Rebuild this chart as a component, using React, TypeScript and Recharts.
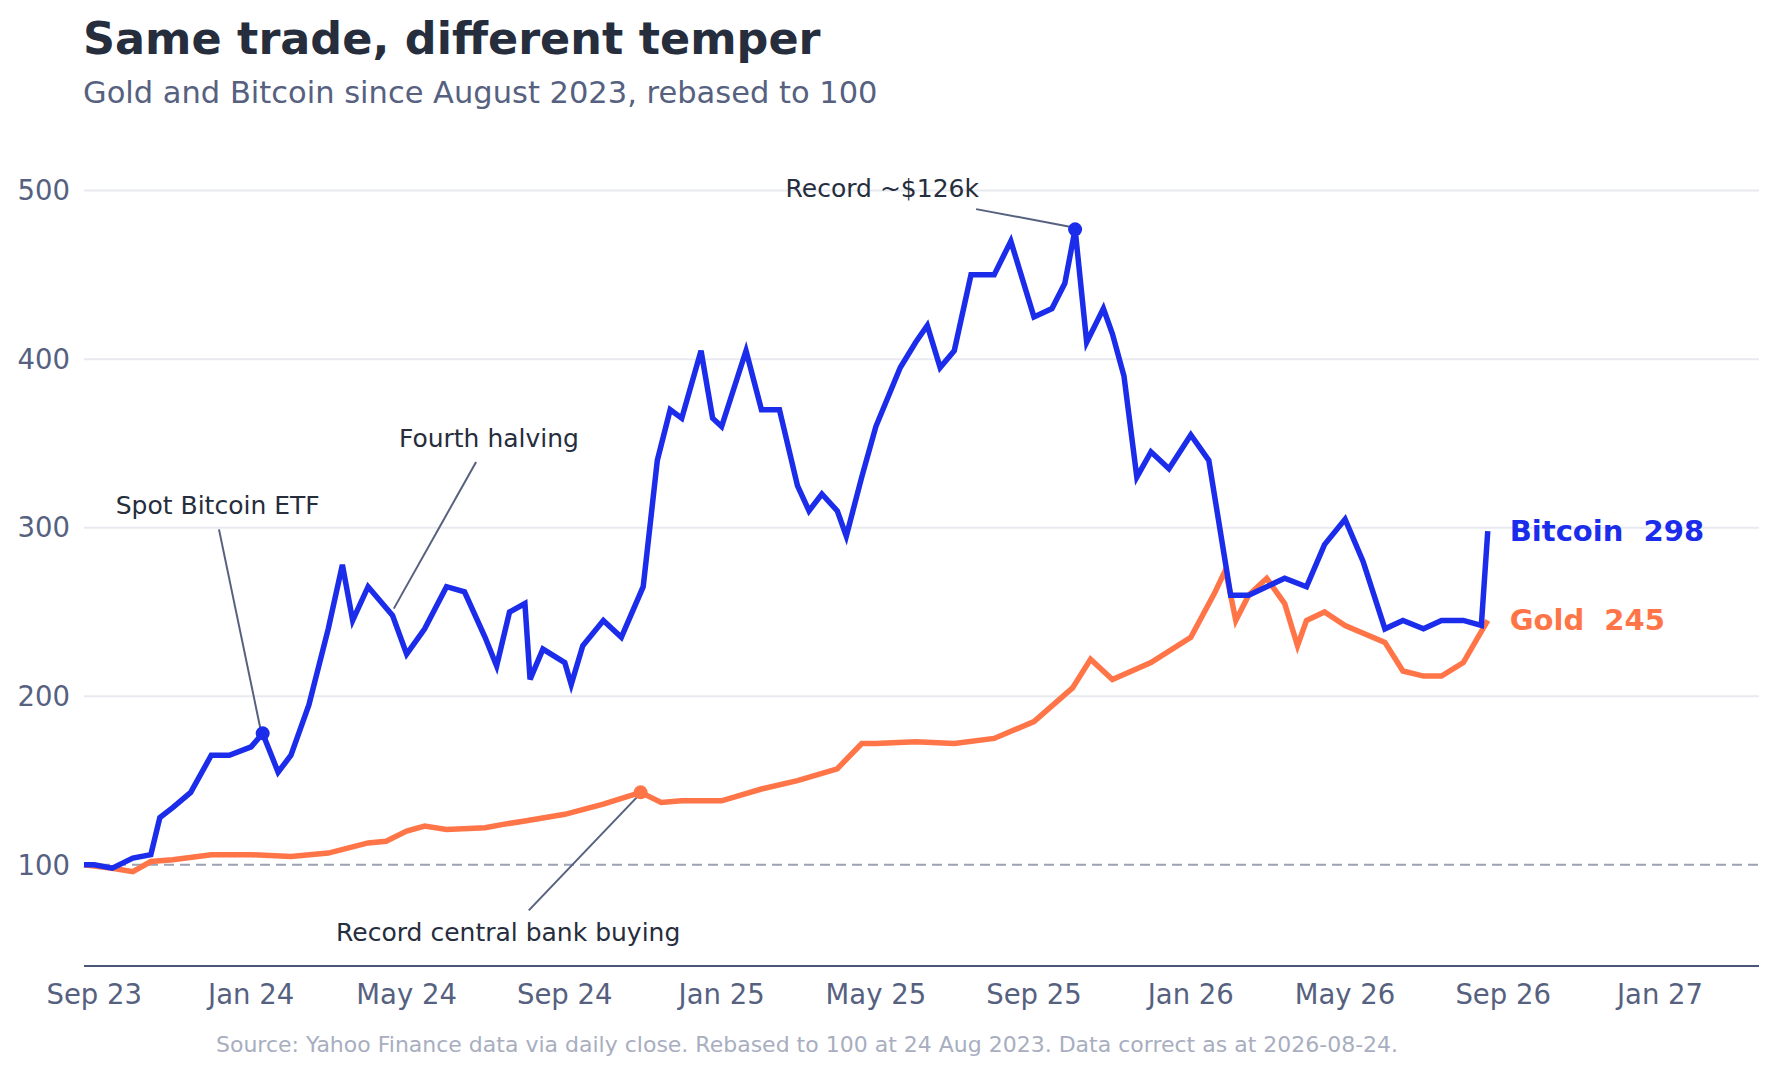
import React from 'react';
import {
  LineChart,
  Line,
  XAxis,
  YAxis,
  CartesianGrid,
  ReferenceLine,
  ReferenceDot,
} from 'recharts';

// Rebased to 100 at 24 Aug 2023
const btcDates = [
  '2023-08-24', '2023-09-01', '2023-09-15', '2023-10-01', '2023-10-15', '2023-10-22', '2023-11-01', '2023-11-15',
  '2023-12-01', '2023-12-15', '2024-01-01', '2024-01-10', '2024-01-22', '2024-02-01', '2024-02-15', '2024-03-01',
  '2024-03-12', '2024-03-20', '2024-04-01', '2024-04-20', '2024-05-01', '2024-05-15', '2024-06-01', '2024-06-15',
  '2024-07-01', '2024-07-10', '2024-07-20', '2024-08-01', '2024-08-05', '2024-08-15', '2024-09-01', '2024-09-06',
  '2024-09-15', '2024-10-01', '2024-10-15', '2024-11-01', '2024-11-12', '2024-11-22', '2024-12-01', '2024-12-16',
  '2024-12-25', '2025-01-01', '2025-01-20', '2025-02-01', '2025-02-15', '2025-03-01', '2025-03-10', '2025-03-20',
  '2025-04-01', '2025-04-08', '2025-04-20', '2025-05-01', '2025-05-20', '2025-06-01', '2025-06-10', '2025-06-20',
  '2025-07-01', '2025-07-14', '2025-08-01', '2025-08-14', '2025-09-01', '2025-09-15', '2025-09-25', '2025-10-03',
  '2025-10-12', '2025-10-25', '2025-11-01', '2025-11-10', '2025-11-20', '2025-12-01', '2025-12-15', '2026-01-01',
  '2026-01-15', '2026-02-01', '2026-02-15', '2026-03-01', '2026-03-15', '2026-04-01', '2026-04-15', '2026-05-01',
  '2026-05-15', '2026-06-01', '2026-06-15', '2026-07-01', '2026-07-15', '2026-08-01', '2026-08-15', '2026-08-20',
];
const btcValues = [
  100, 100, 98, 104, 106, 128, 134, 143,
  165, 165, 170, 178, 155, 165, 195, 240,
  278, 245, 265, 248, 225, 240, 265, 262,
  235, 218, 250, 255, 210, 228, 220, 207,
  230, 245, 235, 265, 340, 370, 365, 405,
  365, 360, 405, 370, 370, 325, 310, 320,
  310, 295, 330, 360, 395, 410, 420, 395,
  405, 450, 450, 470, 425, 430, 445, 477,
  410, 430, 415, 390, 330, 345, 335, 355,
  340, 260, 260, 265, 270, 265, 290, 305,
  280, 240, 245, 240, 245, 245, 242, 298,
];

const goldDates = [
  '2023-08-24', '2023-09-15', '2023-10-01', '2023-10-15', '2023-11-01', '2023-12-01', '2024-01-01', '2024-02-01',
  '2024-03-01', '2024-04-01', '2024-04-15', '2024-05-01', '2024-05-15', '2024-06-01', '2024-07-01', '2024-07-15',
  '2024-08-01', '2024-09-01', '2024-10-01', '2024-10-30', '2024-11-15', '2024-12-01', '2025-01-01', '2025-02-01',
  '2025-03-01', '2025-04-01', '2025-04-20', '2025-05-01', '2025-06-01', '2025-07-01', '2025-08-01', '2025-09-01',
  '2025-10-01', '2025-10-15', '2025-11-01', '2025-12-01', '2026-01-01', '2026-01-20', '2026-01-28', '2026-02-05',
  '2026-02-15', '2026-03-01', '2026-03-15', '2026-03-25', '2026-04-01', '2026-04-15', '2026-05-01', '2026-06-01',
  '2026-06-15', '2026-07-01', '2026-07-15', '2026-08-01', '2026-08-20',
];
const goldValues = [
  100, 98, 96, 102, 103, 106, 106, 105,
  107, 113, 114, 120, 123, 121, 122, 124,
  126, 130, 136, 143, 137, 138, 138, 145,
  150, 157, 172, 172, 173, 172, 175, 185,
  205, 222, 210, 220, 235, 262, 275, 245,
  260, 270, 255, 230, 245, 250, 242, 232,
  215, 212, 212, 220, 245,
];

const xTickDates = ['2023-09-01', '2024-01-01', '2024-05-01', '2024-09-01', '2025-01-01', '2025-05-01', '2025-09-01', '2026-01-01', '2026-05-01', '2026-09-01', '2027-01-01'];
const xTickLabels = ['Sep 23', 'Jan 24', 'May 24', 'Sep 24', 'Jan 25', 'May 25', 'Sep 25', 'Jan 26', 'May 26', 'Sep 26', 'Jan 27'];
const yTicks = [100, 200, 300, 400, 500];

const t = (d: string) => new Date(d + 'T00:00:00Z').getTime();
const btcData = btcDates.map((d, i) => ({ t: t(d), v: btcValues[i] }));
const goldData = goldDates.map((d, i) => ({ t: t(d), v: goldValues[i] }));
const xTicks = xTickDates.map(t);

const BLUE = '#1b2ceb';
const ORANGE = '#ff7548';
const FONT = '"DejaVu Sans", sans-serif';
const INK = '#262d3d';
const MUTED = '#56617f';

const annText = (value: string) => (props: any) => {
  const { viewBox } = props;
  return (
    <text x={viewBox.x + viewBox.width / 2} y={viewBox.y + viewBox.height / 2} textAnchor="middle"
      dominantBaseline="central" fontSize={25} fill={INK} fontFamily={FONT}>{value}</text>
  );
};

const endText = (value: string, color: string) => (props: any) => {
  const { viewBox } = props;
  return (
    <text x={viewBox.x + 22} y={viewBox.y + viewBox.height / 2} dominantBaseline="central"
      fontSize={29} fontWeight="bold" fill={color} fontFamily={FONT} style={{ whiteSpace: 'pre' }}>{value}</text>
  );
};

const seg = (a: [string, number], b: [string, number]) => [
  { x: t(a[0]), y: a[1] },
  { x: t(b[0]), y: b[1] },
];

export default function App() {
  return (
    <div style={{ position: 'absolute', left: 0, top: 0, width: 1779, height: 1077, background: '#fff', fontFamily: FONT }}>
      <div style={{ position: 'absolute', left: 83, top: 13, fontSize: 44.5, fontWeight: 'bold', color: INK }}>
        Same trade, different temper
      </div>
      <div style={{ position: 'absolute', left: 83, top: 75, fontSize: 30.5, color: MUTED }}>
        Gold and Bitcoin since August 2023, rebased to 100
      </div>
      <div style={{ position: 'absolute', left: 216, top: 1032, fontSize: 22, color: '#a8aec0', whiteSpace: 'nowrap' }}>
        Source: Yahoo Finance data via daily close. Rebased to 100 at 24 Aug 2023. Data correct as at 2026-08-24.
      </div>
      <LineChart width={1779} height={1077} margin={{ top: 140, right: 20, bottom: 81, left: 0 }}
        style={{ position: 'absolute', left: 0, top: 0 }}>
        <CartesianGrid vertical={false} stroke="#e8eaef" strokeWidth={2} horizontalValues={[200, 300, 400, 500]} />
        <XAxis dataKey="t" type="number" scale="time" domain={[t('2023-08-24'), t('2027-03-19')]}
          ticks={xTicks} allowDuplicatedCategory={false} tickLine={false}
          axisLine={{ stroke: '#4a5578', strokeWidth: 2 }}
          tickFormatter={(v: number) => xTickLabels[xTicks.indexOf(v)]}
          tick={{ fontSize: 27.5, fill: MUTED, fontFamily: FONT }} dy={10} />
        <YAxis type="number" domain={[40, 530]} ticks={yTicks} width={84} tickLine={false} axisLine={false}
          tick={{ fontSize: 27.5, fill: MUTED, fontFamily: FONT }} dx={-6} />
        <ReferenceLine y={100} stroke="#9aa2b4" strokeWidth={2} strokeDasharray="10 6" />

        <ReferenceLine segment={seg(['2023-12-07', 299], ['2024-01-09', 178])} stroke="#56617f" strokeWidth={2} />
        <ReferenceLine segment={seg(['2024-06-24', 339], ['2024-04-21', 252])} stroke="#56617f" strokeWidth={2} />
        <ReferenceLine segment={seg(['2025-07-18', 489], ['2025-10-03', 478])} stroke="#56617f" strokeWidth={2} />
        <ReferenceLine segment={seg(['2024-08-04', 73], ['2024-10-27', 140])} stroke="#56617f" strokeWidth={2} />

        <Line data={goldData} dataKey="v" stroke={ORANGE} strokeWidth={5.5} dot={false} isAnimationActive={false} />
        <Line data={btcData} dataKey="v" stroke={BLUE} strokeWidth={5.5} dot={false} isAnimationActive={false} />

        <ReferenceDot x={t('2024-01-10')} y={178} r={7} fill={BLUE} stroke="none" />
        <ReferenceDot x={t('2025-10-03')} y={477} r={7} fill={BLUE} stroke="none" />
        <ReferenceDot x={t('2024-10-30')} y={143} r={7} fill={ORANGE} stroke="none" />

        <ReferenceDot x={t('2023-12-06')} y={313} r={0} label={annText('Spot Bitcoin ETF')} />
        <ReferenceDot x={t('2024-07-04')} y={353} r={0} label={annText('Fourth halving')} />
        <ReferenceDot x={t('2025-05-06')} y={501} r={0} label={annText('Record ~$126k')} />
        <ReferenceDot x={t('2024-07-19')} y={60} r={0} label={annText('Record central bank buying')} />

        <ReferenceDot x={t('2026-08-20')} y={298} r={0} label={endText('Bitcoin  298', BLUE)} />
        <ReferenceDot x={t('2026-08-20')} y={245} r={0} label={endText('Gold  245', ORANGE)} />
      </LineChart>
    </div>
  );
}
